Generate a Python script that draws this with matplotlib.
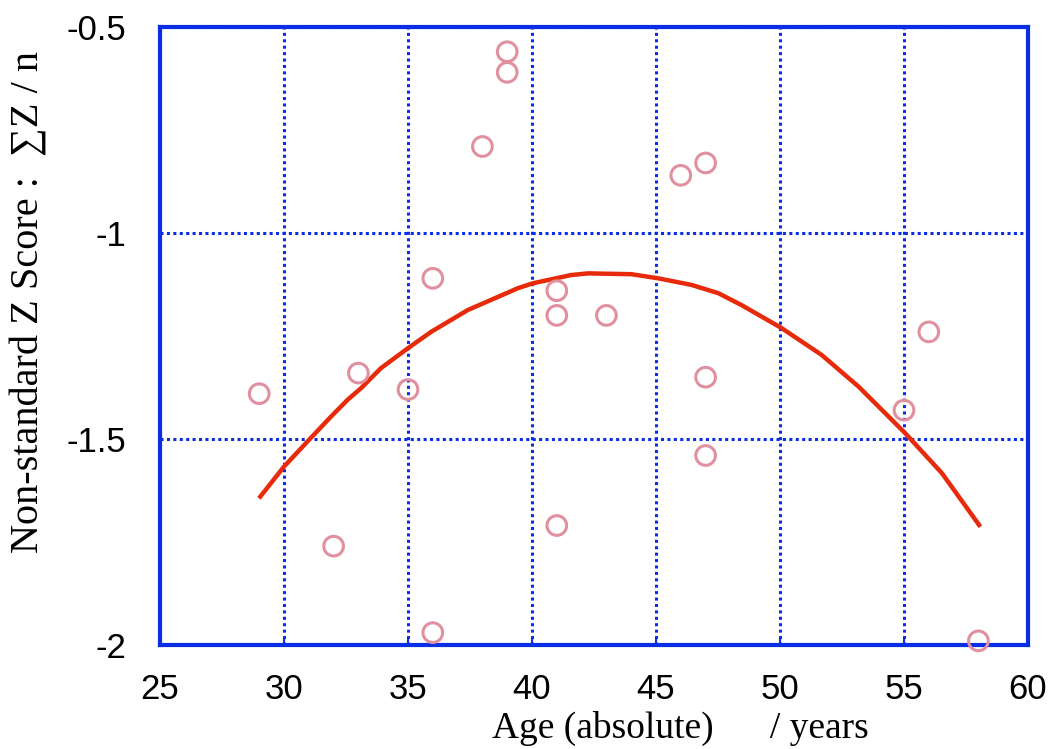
import matplotlib
matplotlib.use("Agg")
import matplotlib.pyplot as plt

# Data points (age, score)
ages = [29, 32, 33, 35, 36, 36, 38, 39, 39, 41, 41, 41, 43, 46, 47, 47, 47, 55, 56, 58]
scores = [-1.39, -1.76, -1.34, -1.38, -1.11, -1.97, -0.79, -0.56, -0.61, -1.14,
          -1.20, -1.71, -1.20, -0.86, -0.83, -1.35, -1.54, -1.43, -1.24, -1.99]

# Fitted trend curve samples
curve_x = [28.99, 30.0, 31.01, 31.89, 32.56, 33.10, 33.91, 34.99, 35.93, 37.41, 39.43,
           40.04, 41.58, 42.26, 44.01, 45.09, 46.43, 47.51, 48.45, 50.07, 51.68,
           53.17, 55.05, 56.53, 58.08]
curve_y = [-1.644, -1.567, -1.502, -1.446, -1.405, -1.377, -1.328, -1.280, -1.240, -1.187,
           -1.134, -1.122, -1.102, -1.098, -1.100, -1.110, -1.126, -1.146, -1.175, -1.231,
           -1.296, -1.373, -1.486, -1.583, -1.713]

xticks = [25, 30, 35, 40, 45, 50, 55, 60]
yticks = [-2, -1.5, -1, -0.5]
ytick_labels = ["-2", "-1.5", "-1", "-0.5"]

blue = "#0a2ee6"
fig = plt.figure(figsize=(10.62, 7.49), dpi=100)
ax = fig.add_axes([160/1062, 1-645/749, (1028-160)/1062, (645-27)/749])

ax.plot(curve_x, curve_y, color="#e62a0a", lw=3.2, zorder=3,
        solid_joinstyle="round", solid_capstyle="butt")
ax.scatter(ages, scores, s=200, facecolors="none", edgecolors="#e0909f",
           linewidths=2.2, zorder=4, clip_on=False)

ax.set_xlim(25, 60)
ax.set_ylim(-2, -0.5)
ax.set_xticks(xticks)
ax.set_yticks(yticks)
ax.set_yticklabels(ytick_labels)
ax.grid(True, color=blue, linestyle=(0, (1, 1.1)), lw=2.2)
for s in ax.spines.values():
    s.set_color(blue)
    s.set_linewidth(3)
ax.tick_params(axis="both", direction="in", length=5, width=1.5, color=blue, labelsize=25)
ax.tick_params(axis="x", pad=20)
ax.tick_params(axis="y", pad=24, length=0)
for lbl in ax.get_xticklabels() + ax.get_yticklabels():
    lbl.set_fontfamily("Liberation Sans")

fig.text(680/1062, 1-728/749, "Age (absolute)      / years", ha="center", va="center",
         fontsize=27, family="Liberation Serif")
fig.text(38/1062, 1-302/749, "Non-standard Z Score :  \u2211Z / n", ha="center", va="baseline",
         rotation=90, rotation_mode="anchor", fontsize=29, family="Liberation Serif")

fig.savefig("out.png", dpi=100)
